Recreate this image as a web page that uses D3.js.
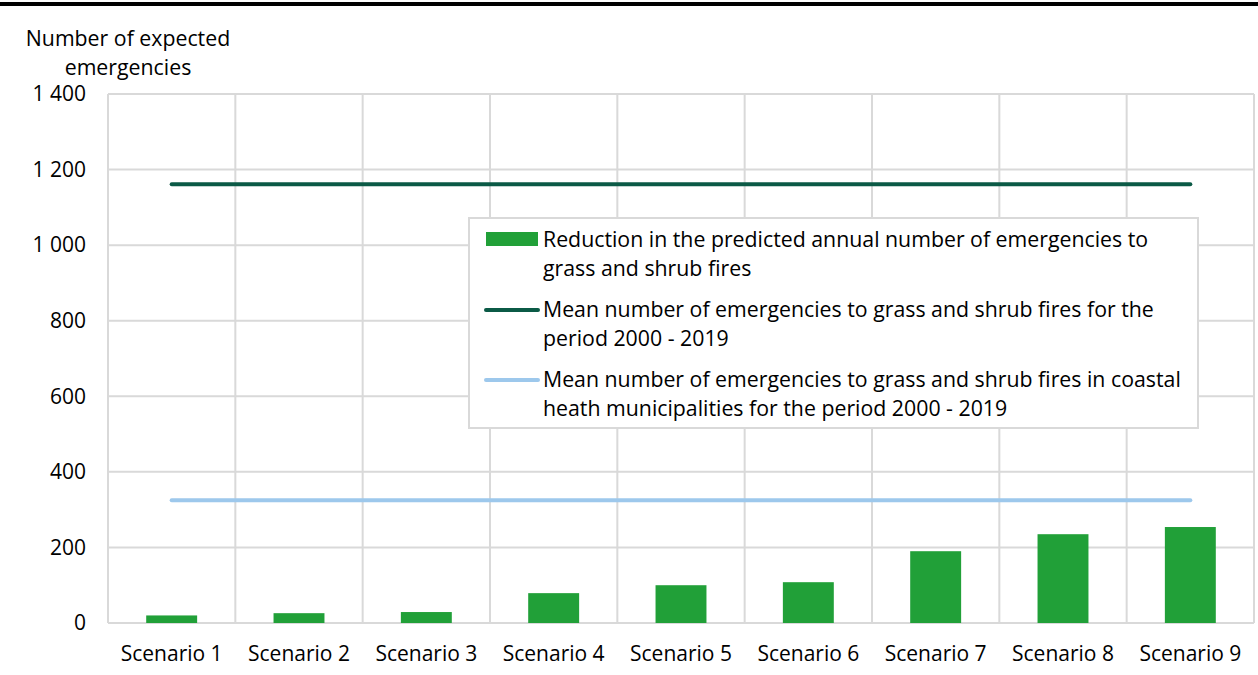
<!DOCTYPE html>
<html>
<head>
<meta charset="utf-8">
<script src="https://cdn.jsdelivr.net/npm/d3@7"></script>
<style>
  body { margin: 0; background: #fff; }
  svg text { font-family: "Open Sans", sans-serif; fill: #000; }
</style>
</head>
<body>
<div id="chart"></div>
<script>
const scenarios = ['Scenario 1', 'Scenario 2', 'Scenario 3', 'Scenario 4', 'Scenario 5',
  'Scenario 6', 'Scenario 7', 'Scenario 8', 'Scenario 9'];
const reduction = [20, 26, 29, 79, 100, 108, 190, 235, 254];
const meanAll = [1161, 1161, 1161, 1161, 1161, 1161, 1161, 1161, 1161];
const meanCoastal = [325, 325, 325, 325, 325, 325, 325, 325, 325];
const yTicks = [0, 200, 400, 600, 800, 1000, 1200, 1400];
const legendLabels = [
  ['Reduction in the predicted annual number of emergencies to', 'grass and shrub fires'],
  ['Mean number of emergencies to grass and shrub fires for the', 'period 2000 - 2019'],
  ['Mean number of emergencies to grass and shrub fires in coastal', 'heath municipalities for the period 2000 - 2019']
];

const W = 1258, H = 675;
const margin = { top: 94, right: 4, bottom: 52, left: 108 };
const width = W - margin.left - margin.right;
const height = H - margin.top - margin.bottom;

const svgRoot = d3.select('#chart').append('svg')
  .attr('width', W).attr('height', H);

// top rule
svgRoot.append('rect')
  .attr('x', 0).attr('y', 2).attr('width', W).attr('height', 4)
  .attr('fill', '#000');

const svg = svgRoot.append('g')
  .attr('transform', `translate(${margin.left},${margin.top})`);

const x = d3.scaleBand().domain(scenarios).range([0, width]).paddingInner(0).paddingOuter(0);
const y = d3.scaleLinear().domain([0, 1400]).range([height, 0]);

// grid
svg.selectAll('.hgrid').data(yTicks).enter().append('line')
  .attr('x1', 0).attr('x2', width)
  .attr('y1', d => y(d)).attr('y2', d => y(d))
  .attr('stroke', '#d9d9d9').attr('stroke-width', 2);

svg.selectAll('.vgrid').data(scenarios.concat(['end'])).enter().append('line')
  .attr('x1', (d, i) => i < scenarios.length ? x(d) : width)
  .attr('x2', (d, i) => i < scenarios.length ? x(d) : width)
  .attr('y1', 0).attr('y2', height)
  .attr('stroke', '#d9d9d9').attr('stroke-width', 2);

// bars
const barW = x.bandwidth() * 0.4;
svg.selectAll('.bar').data(reduction).enter().append('rect')
  .attr('x', (d, i) => x(scenarios[i]) + (x.bandwidth() - barW) / 2)
  .attr('y', d => y(d))
  .attr('width', barW)
  .attr('height', d => height - y(d))
  .attr('fill', '#21a038');

// lines
const line = d3.line()
  .x((d, i) => x(scenarios[i]) + x.bandwidth() / 2)
  .y(d => y(d));

svg.append('path').datum(meanAll)
  .attr('d', line).attr('fill', 'none')
  .attr('stroke', '#0b5a46').attr('stroke-width', 4).attr('stroke-linecap', 'round');

svg.append('path').datum(meanCoastal)
  .attr('d', line).attr('fill', 'none')
  .attr('stroke', '#9dc8ec').attr('stroke-width', 4).attr('stroke-linecap', 'round');

// axes
const yAxis = svg.append('g')
  .call(d3.axisLeft(y).tickValues(yTicks).tickSize(0).tickPadding(22)
    .tickFormat(d => d3.format(',')(d).replace(',', '\u00a0')));
yAxis.select('.domain').remove();
yAxis.selectAll('text').attr('font-size', 21).attr('font-family', '"Open Sans", sans-serif');

const xAxis = svg.append('g')
  .attr('transform', `translate(0,${height})`)
  .call(d3.axisBottom(x).tickSize(0).tickPadding(23));
xAxis.select('.domain').remove();
xAxis.selectAll('text').attr('font-size', 21).attr('font-family', '"Open Sans", sans-serif');

// y title
svgRoot.append('text')
  .attr('x', 128).attr('y', 46)
  .attr('text-anchor', 'middle').attr('font-size', 21.3)
  .text('Number of expected');
svgRoot.append('text')
  .attr('x', 128).attr('y', 75)
  .attr('text-anchor', 'middle').attr('font-size', 21.3)
  .text('emergencies');

// legend
const legend = svgRoot.append('g').attr('transform', 'translate(469,218)');
legend.append('rect')
  .attr('x', 0).attr('y', 0).attr('width', 729).attr('height', 210)
  .attr('fill', '#fff').attr('stroke', '#d9d9d9').attr('stroke-width', 2);

const legendRows = legend.selectAll('.row').data(legendLabels).enter().append('g')
  .attr('transform', (d, i) => `translate(0,${i * 70})`);

legendRows.each(function (d, i) {
  const g = d3.select(this);
  if (i === 0) {
    g.append('rect').attr('x', 17).attr('y', 14).attr('width', 52).attr('height', 14)
      .attr('fill', '#21a038');
  } else {
    g.append('line').attr('x1', 17).attr('x2', 69).attr('y1', 22).attr('y2', 22)
      .attr('stroke', i === 1 ? '#0b5a46' : '#9dc8ec')
      .attr('stroke-width', 4).attr('stroke-linecap', 'round');
  }
  g.selectAll('text').data(d).enter().append('text')
    .attr('x', 74).attr('y', (t, j) => 29 + j * 29)
    .attr('font-size', 21.3)
    .text(t => t);
});
</script>
</body>
</html>
